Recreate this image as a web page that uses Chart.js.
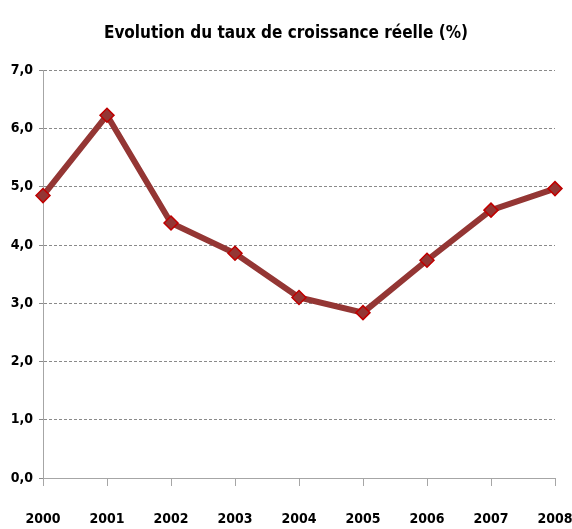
<!DOCTYPE html>
<html lang="fr">
<head>
  <meta charset="UTF-8">
  <title>Evolution du taux de croissance réelle</title>
  <script src="https://cdn.jsdelivr.net/npm/chart.js"></script>
  <style>
    html, body { margin: 0; padding: 0; background: #fff; }
    #wrap { width: 572px; height: 529px; }
  </style>
</head>
<body>
  <div id="wrap"><canvas id="graf"></canvas></div>

  <script>
    // données
    const annees = ["2000", "2001", "2002", "2003", "2004", "2005", "2006", "2007", "2008"];
    const croissance = [4.85, 6.23, 4.38, 3.86, 3.10, 2.84, 3.74, 4.60, 4.97];

    const police = "'DejaVu Sans Condensed', 'Liberation Sans Narrow', Arial, sans-serif";

    new Chart(document.getElementById("graf"), {
      type: 'line',
      data: {
        labels: annees,
        datasets: [{
          label: 'Taux de croissance réelle (%)',
          data: croissance,
          borderColor: '#943634',
          borderWidth: 6,
          backgroundColor: '#943634',
          pointStyle: 'rectRot',
          pointRadius: 7,
          pointBorderColor: '#c00000',
          pointBorderWidth: 1.5,
          pointBackgroundColor: '#943634',
          tension: 0
        }]
      },
      options: {
        responsive: true,
        maintainAspectRatio: false,
        animation: false,
        layout: { padding: 0 },
        plugins: {
          legend: { display: false },
          tooltip: { enabled: false },
          title: {
            display: true,
            text: 'Evolution du taux de croissance réelle (%)',
            color: '#000',
            font: { family: police, size: 17, weight: 'bold' },
            padding: { top: 23, bottom: 27 }
          }
        },
        scales: {
          x: {
            offset: false,
            grid: { drawOnChartArea: false, drawTicks: true, tickLength: 8, color: '#a6a6a6' },
            border: { color: '#a6a6a6', width: 1 },
            ticks: {
              color: '#000',
              padding: 25,
              maxRotation: 0,
              font: { family: police, size: 14, weight: 'bold' }
            },
            afterFit: s => { s.height = 51; s.paddingRight = 17; s.paddingLeft = 0; }
          },
          y: {
            min: 0,
            max: 7,
            grid: { color: '#8a8a8a', tickLength: 4, lineWidth: 1 },
            border: { color: '#a6a6a6', width: 1, dash: [3, 2] },
            ticks: {
              stepSize: 1,
              color: '#000',
              padding: 6,
              font: { family: police, size: 14, weight: 'bold' },
              callback: v => v.toFixed(1).replace('.', ',')
            },
            afterFit: s => { s.width = 43; }
          }
        }
      }
    });
  </script>
</body>
</html>
